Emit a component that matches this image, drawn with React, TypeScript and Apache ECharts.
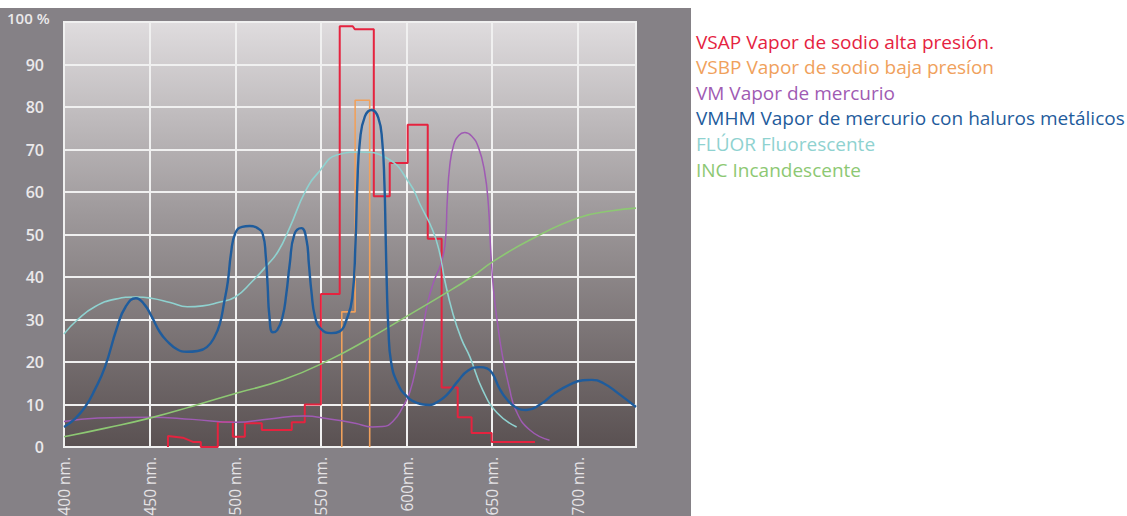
import React, { useEffect, useRef } from "react";
import * as echarts from "echarts";

const xTicks = [400, 450, 500, 550, 600, 650, 700];
const xTickLabels = ["400 nm.", "450 nm.", "500 nm.", "550 nm.", "600nm.", "650 nm.", "700 nm."];
const yTicks = [0, 10, 20, 30, 40, 50, 60, 70, 80, 90, 100];
const yTickLabels = ["0", "10", "20", "30", "40", "50", "60", "70", "80", "90", "100 %"];

const seriesNames = [
  "VSAP Vapor de sodio alta presión.",
  "VSBP Vapor de sodio baja presíon",
  "VM Vapor de mercurio",
  "VMHM Vapor de mercurio con haluros metálicos",
  "FLÚOR Fluorescente",
  "INC Incandescente",
];
const seriesColors = ["#e5233f", "#f0a15c", "#9f5bb3", "#1f5c9c", "#8fd2d0", "#8dc873"];

// VSAP: step spectrum [nm, %]
const vsap = [
  [460.7, 0], [460.7, 2.6], [469.4, 2.2], [475.3, 1.2], [479.9, 1.2], [479.9, 0], [489.8, 0],
  [489.8, 5.9], [498.6, 5.9], [498.6, 2.4], [505.6, 2.4], [505.6, 5.6], [515.5, 5.6], [515.5, 4],
  [533, 4], [533, 5.8], [540.6, 5.8], [540.6, 10], [550, 10], [550, 36], [561, 36], [561, 99],
  [568.6, 99], [569.8, 98.3], [580.9, 98.3], [580.9, 59], [590.2, 59], [590.2, 66.8], [600.7, 66.8],
  [600.7, 75.8], [612.4, 75.8], [612.4, 49], [620.5, 49], [620.5, 14], [629.9, 14], [629.9, 7],
  [638, 7], [638, 3.3], [649.7, 3.3], [649.7, 1.2], [675, 1.2],
];

// VSBP
const vsbp = [
  [562.2, 0], [562.2, 31.8], [570, 31.8], [570, 81.6], [578.5, 81.6], [578.5, 0],
];

// VM
const vm = [
  [400, 6], [420, 6.8], [450, 7], [475, 6.5], [500, 5.8], [520, 6.6], [540, 7.3], [555, 6.6],
  [570, 5.6], [580, 4.7], [586, 4.8], [592, 6], [597.8, 9.4], [602, 13], [606, 19.7], [609.5, 27.5],
  [612.4, 34], [616, 39], [620, 43], [622.6, 48], [623.8, 58], [625.2, 66], [627.5, 71], [630.5, 73.3],
  [634, 74], [638, 73.2], [642, 70.5], [645.5, 65], [647.8, 57], [649.2, 46], [650.8, 37], [653, 29.5],
  [656, 21.5], [660, 14], [664, 8.5], [672, 4], [683.5, 1.6],
];

// VMHM
const vmhm = [
  [400, 4.7], [406, 6.5], [412.3, 9.4], [418, 13.5], [423.9, 18.8], [430.9, 28], [436, 33], [442, 35],
  [447, 33.5], [451.3, 30.6], [456, 27], [460, 25], [466, 23], [471.8, 22.4], [478, 22.6], [483.4, 23.5],
  [488, 26], [491, 29], [493.5, 34], [495.7, 39], [497.5, 45.5], [500, 50.3], [504, 51.8], [508.5, 52],
  [513, 51.5], [516.1, 50], [517.8, 45], [518.9, 38], [519.9, 31], [521.9, 27], [524.5, 27.5],
  [527.6, 30.6], [529.8, 36], [531.8, 43], [534.5, 50], [538.6, 51.5], [541.6, 48.7], [543, 43],
  [544.5, 36.5], [546.6, 30.6], [550, 27.8], [556, 26.8], [561, 27.2], [565, 30], [568.3, 35],
  [570.2, 48], [571.3, 62], [572.8, 72], [575.7, 77.8], [579.7, 79.3], [583.5, 77.5], [585.8, 72],
  [587.1, 62], [587.8, 50], [588.5, 38], [589.4, 28], [591, 20], [595, 14.8], [600, 12],
  [606, 10.4], [613.5, 9.9], [618, 10.6], [623.4, 12.2], [630, 15.5], [636, 18], [642.7, 18.8],
  [647, 18.5], [650.3, 17.2], [654, 14], [658.4, 11.3], [664, 9.3], [670, 8.7], [678, 10],
  [686, 12.5], [695, 14.6], [703, 15.7], [708, 15.8], [715, 15], [724, 12.5], [734, 9.4],
];

// FLÚOR
const fluor = [
  [400, 26.6], [408, 30], [418, 33], [430, 34.8], [442, 35.3], [451, 35], [462, 34], [472, 33],
  [481, 33.2], [490, 34], [500, 35.3], [510, 39], [518, 42.5], [525, 46], [532, 51.8], [541, 60.2],
  [549.4, 65], [559.3, 68.7], [572.7, 69.4], [588.4, 68], [601.9, 62], [608, 57], [615.3, 51],
  [619.4, 45.6], [622.3, 39.3], [627, 31.5], [632, 25.5], [637, 21.2], [644.5, 13.4], [653, 8],
  [664.3, 4.7],
];

// INC
const inc = [
  [400, 2.4], [425, 4.5], [450, 6.8], [475, 9.6], [501, 12.7], [528, 15.8], [555, 20.5],
  [578.5, 25.6], [602, 31.2], [620, 35.5], [638, 40], [650, 43.5], [672, 48.7], [700, 53.9],
  [720, 55.6], [734, 56.2],
];

const seriesData = [vsap, vsbp, vm, vmhm, fluor, inc];
const seriesSmooth = [false, false, true, true, true, true];
const seriesWidths = [2, 1.6, 1.5, 2.4, 1.6, 1.6];

export default function App() {
  const ref = useRef<HTMLDivElement>(null);

  useEffect(() => {
    if (!ref.current) return;
    const chart = echarts.init(ref.current, null, { renderer: "svg" });
    const labelFont = "'Open Sans', 'Noto Sans', sans-serif";
    chart.setOption({
      animation: false,
      backgroundColor: "#ffffff",
      graphic: [
        {
          type: "rect",
          z: -10,
          silent: true,
          shape: { x: 0, y: 8, width: 691, height: 508 },
          style: { fill: "#858186" },
        },
        {
          type: "text",
          left: 7,
          top: 10,
          z: 10,
          style: {
            text: yTickLabels[yTickLabels.length - 1],
            fill: "#ebe9eb",
            font: "600 15px 'Open Sans', sans-serif",
          },
        },
      ],
      grid: {
        left: 64,
        top: 22,
        right: 1127 - 636,
        bottom: 516 - 447,
        outerBoundsMode: "none",
        containLabel: false,
        show: true,
        borderColor: "#f0f0f0",
        borderWidth: 2,
        backgroundColor: {
          type: "linear",
          x: 0,
          y: 0,
          x2: 0,
          y2: 1,
          colorStops: [
            { offset: 0, color: "#dfdcde" },
            { offset: 0.45, color: "#9e999b" },
            { offset: 1, color: "#5a5152" },
          ],
        },
      },
      legend: {
        orient: "vertical",
        left: 686,
        top: 25.5,
        icon: "none",
        itemWidth: 0,
        itemHeight: 10,
        itemGap: 3.6,
        selectedMode: false,
        textStyle: { fontSize: 19, lineHeight: 22, fontFamily: labelFont },
        data: seriesNames.map((n, i) => ({ name: n, textStyle: { color: seriesColors[i] } })),
      },
      xAxis: {
        type: "value",
        min: 400,
        max: 734,
        interval: 50,
        axisLine: { show: false },
        axisTick: { show: false },
        splitLine: { show: true, lineStyle: { color: "#f0f0f0", width: 2 } },
        axisLabel: {
          rotate: 90,
          margin: 10,
          color: "#e6e4e6",
          fontSize: 15.5,
          fontFamily: labelFont,
          showMaxLabel: false,
          formatter: (v: number) => {
            const i = xTicks.indexOf(Math.round(v));
            return i >= 0 ? xTickLabels[i] : "";
          },
        },
      },
      yAxis: {
        type: "value",
        min: 0,
        max: 100,
        interval: 10,
        axisLine: { show: false },
        axisTick: { show: false },
        splitLine: { show: true, lineStyle: { color: "#f0f0f0", width: 2 } },
        axisLabel: {
          margin: 20,
          color: "#ebe9eb",
          fontSize: 16,
          fontWeight: 600,
          fontFamily: labelFont,
          formatter: (v: number) => {
            const i = yTicks.indexOf(Math.round(v));
            if (i === yTicks.length - 1) return "";
            return i >= 0 ? yTickLabels[i] : "";
          },
        },
      },
      series: seriesNames.map((name, i) => ({
        name,
        type: "line",
        data: seriesData[i],
        showSymbol: false,
        smooth: seriesSmooth[i] ? 0.5 : false,
        lineStyle: { color: seriesColors[i], width: seriesWidths[i] },
        itemStyle: { color: seriesColors[i] },
        z: i === 3 ? 3 : 2,
      })),
    });
    return () => chart.dispose();
  }, []);

  return (
    <div
      ref={ref}
      style={{ position: "absolute", left: 0, top: 0, width: 1127, height: 516 }}
    />
  );
}
